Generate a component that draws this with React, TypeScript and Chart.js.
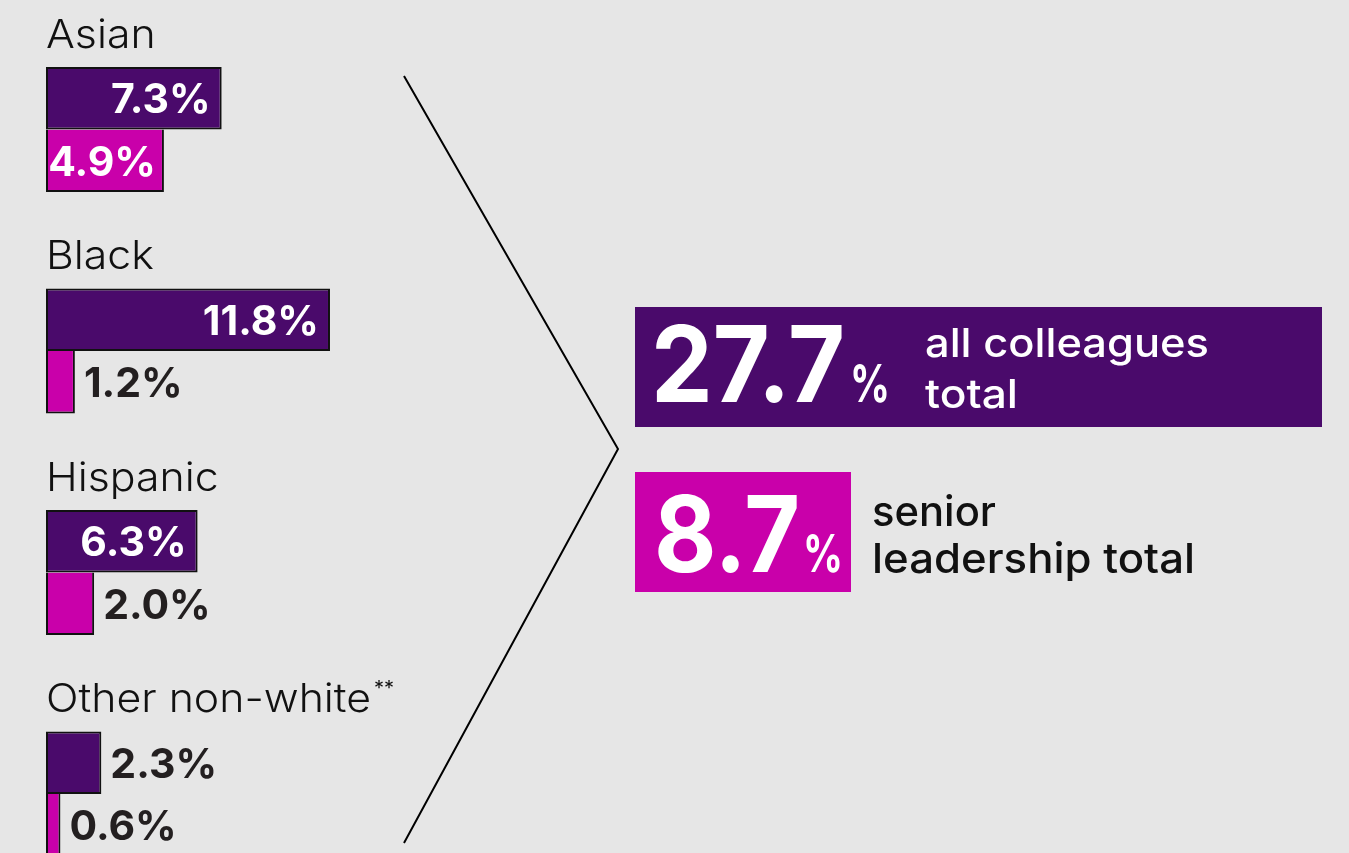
import { useEffect, useRef } from "react";
import { Chart, registerables } from "chart.js";

Chart.register(...registerables);

const categories = ["Asian", "Black", "Hispanic", "Other non-white"];
const categoryNotes = ["", "", "", "**"];
const allColleagues = [7.3, 11.8, 6.3, 2.3];
const seniorLeadership = [4.9, 1.2, 2.0, 0.6];
const totalValues = [27.7, 8.7];
const totalLabels = [
  ["all colleagues", "total"],
  ["senior", "leadership total"],
];

const PURPLE = "#4a0a6b";
const MAGENTA = "#c900aa";
const BG = "#e6e6e6";
const DARK = "#231f20";

function fitText(ctx: CanvasRenderingContext2D, text: string, x: number, y: number, targetW: number) {
  const w = ctx.measureText(text).width;
  ctx.save();
  ctx.translate(x, y);
  ctx.scale(targetW / w, 1);
  ctx.textAlign = "left";
  ctx.fillText(text, 0, 0);
  ctx.restore();
}

export default function App() {
  const ref = useRef<HTMLCanvasElement>(null);

  useEffect(() => {
    document.body.style.margin = "0";
    document.body.style.background = BG;
    document.body.style.overflow = "hidden";
    const canvas = ref.current!;

    const annot = {
      id: "annot",
      afterDatasetsDraw(chart: any) {
        const ctx: CanvasRenderingContext2D = chart.ctx;
        const m0 = chart.getDatasetMeta(0);
        const m1 = chart.getDatasetMeta(1);
        ctx.save();
        ctx.textBaseline = "alphabetic";

        const drawValue = (bar: any, v: number, padIn: number) => {
          const text = v.toFixed(1) + "%";
          ctx.font = "700 41px Inter";
          const tw = ctx.measureText(text).width;
          const barW = bar.x - bar.base;
          const baseline = bar.y + 15;
          if (tw + 4 <= barW) {
            ctx.fillStyle = "#ffffff";
            ctx.textAlign = "right";
            ctx.fillText(text, bar.x - padIn, baseline);
          } else {
            ctx.fillStyle = DARK;
            ctx.textAlign = "left";
            ctx.fillText(text, bar.x + 9, baseline);
          }
        };

        const labelScale = 1.07;
        categories.forEach((cat, i) => {
          const b0 = m0.data[i];
          const b1 = m1.data[i];
          const top = b0.y - b0.height / 2;
          ctx.font = "300 40px Inter";
          ctx.fillStyle = "#111111";
          ctx.textAlign = "left";
          const w = ctx.measureText(cat).width * labelScale;
          fitText(ctx, cat, b0.base, top - 19, w);
          if (categoryNotes[i]) {
            ctx.font = "400 20px Inter";
            ctx.fillText(categoryNotes[i], b0.base + w + 3, top - 36);
          }
          drawValue(b0, allColleagues[i], 11);
          drawValue(b1, seniorLeadership[i], 8);
        });

        // chevron
        ctx.strokeStyle = "#000000";
        ctx.lineWidth = 2;
        ctx.beginPath();
        ctx.moveTo(404, 76);
        ctx.lineTo(618, 449);
        ctx.lineTo(404, 843);
        ctx.stroke();

        // totals
        ctx.fillStyle = PURPLE;
        ctx.fillRect(635, 307, 687, 120);
        ctx.fillStyle = MAGENTA;
        ctx.fillRect(635, 472, 216, 120);

        ctx.fillStyle = "#ffffff";
        ctx.font = "700 106px Inter";
        fitText(ctx, totalValues[0].toFixed(1), 651, 402, 194);
        ctx.font = "700 52px Inter";
        fitText(ctx, "%", 850, 402, 40);
        ctx.font = "500 40px Inter";
        fitText(ctx, totalLabels[0][0], 925, 357, 284);
        fitText(ctx, totalLabels[0][1], 925, 408, 93);

        ctx.font = "700 106px Inter";
        fitText(ctx, totalValues[1].toFixed(1), 654, 572, 146);
        ctx.font = "700 52px Inter";
        fitText(ctx, "%", 803, 572, 40);
        ctx.fillStyle = "#111111";
        ctx.font = "500 41px Inter";
        fitText(ctx, totalLabels[1][0], 872, 526, 124);
        fitText(ctx, totalLabels[1][1], 872, 573, 323);

        ctx.restore();
      },
    };

    const chart = new Chart(canvas, {
      type: "bar",
      data: {
        labels: categories,
        datasets: [
          {
            label: "All colleagues",
            data: allColleagues,
            backgroundColor: PURPLE,
            borderColor: "#111111",
            borderWidth: 2,
            borderSkipped: false,
            categoryPercentage: 0.5645,
            barPercentage: 1,
          } as any,
          {
            label: "Senior leadership",
            data: seniorLeadership,
            backgroundColor: MAGENTA,
            borderColor: "#111111",
            borderWidth: { top: 0, right: 2, bottom: 2, left: 2 },
            borderSkipped: false,
            categoryPercentage: 0.5645,
            barPercentage: 1,
          } as any,
        ],
      },
      options: {
        indexAxis: "y",
        responsive: false,
        animation: false,
        events: [],
        layout: { padding: { left: 46, right: 581, top: 18.75, bottom: 15.25 } },
        scales: {
          x: { display: false, min: 0, max: 30 },
          y: { display: false },
        },
        plugins: { legend: { display: false }, tooltip: { enabled: false } },
      },
      plugins: [annot],
    });

    return () => chart.destroy();
  }, []);

  return (
    <div
      style={{
        position: "fixed",
        left: 0,
        top: 0,
        width: 1349,
        height: 853,
        overflow: "hidden",
        background: BG,
      }}
    >
      <canvas ref={ref} width={1349} height={920} style={{ display: "block" }} />
    </div>
  );
}
